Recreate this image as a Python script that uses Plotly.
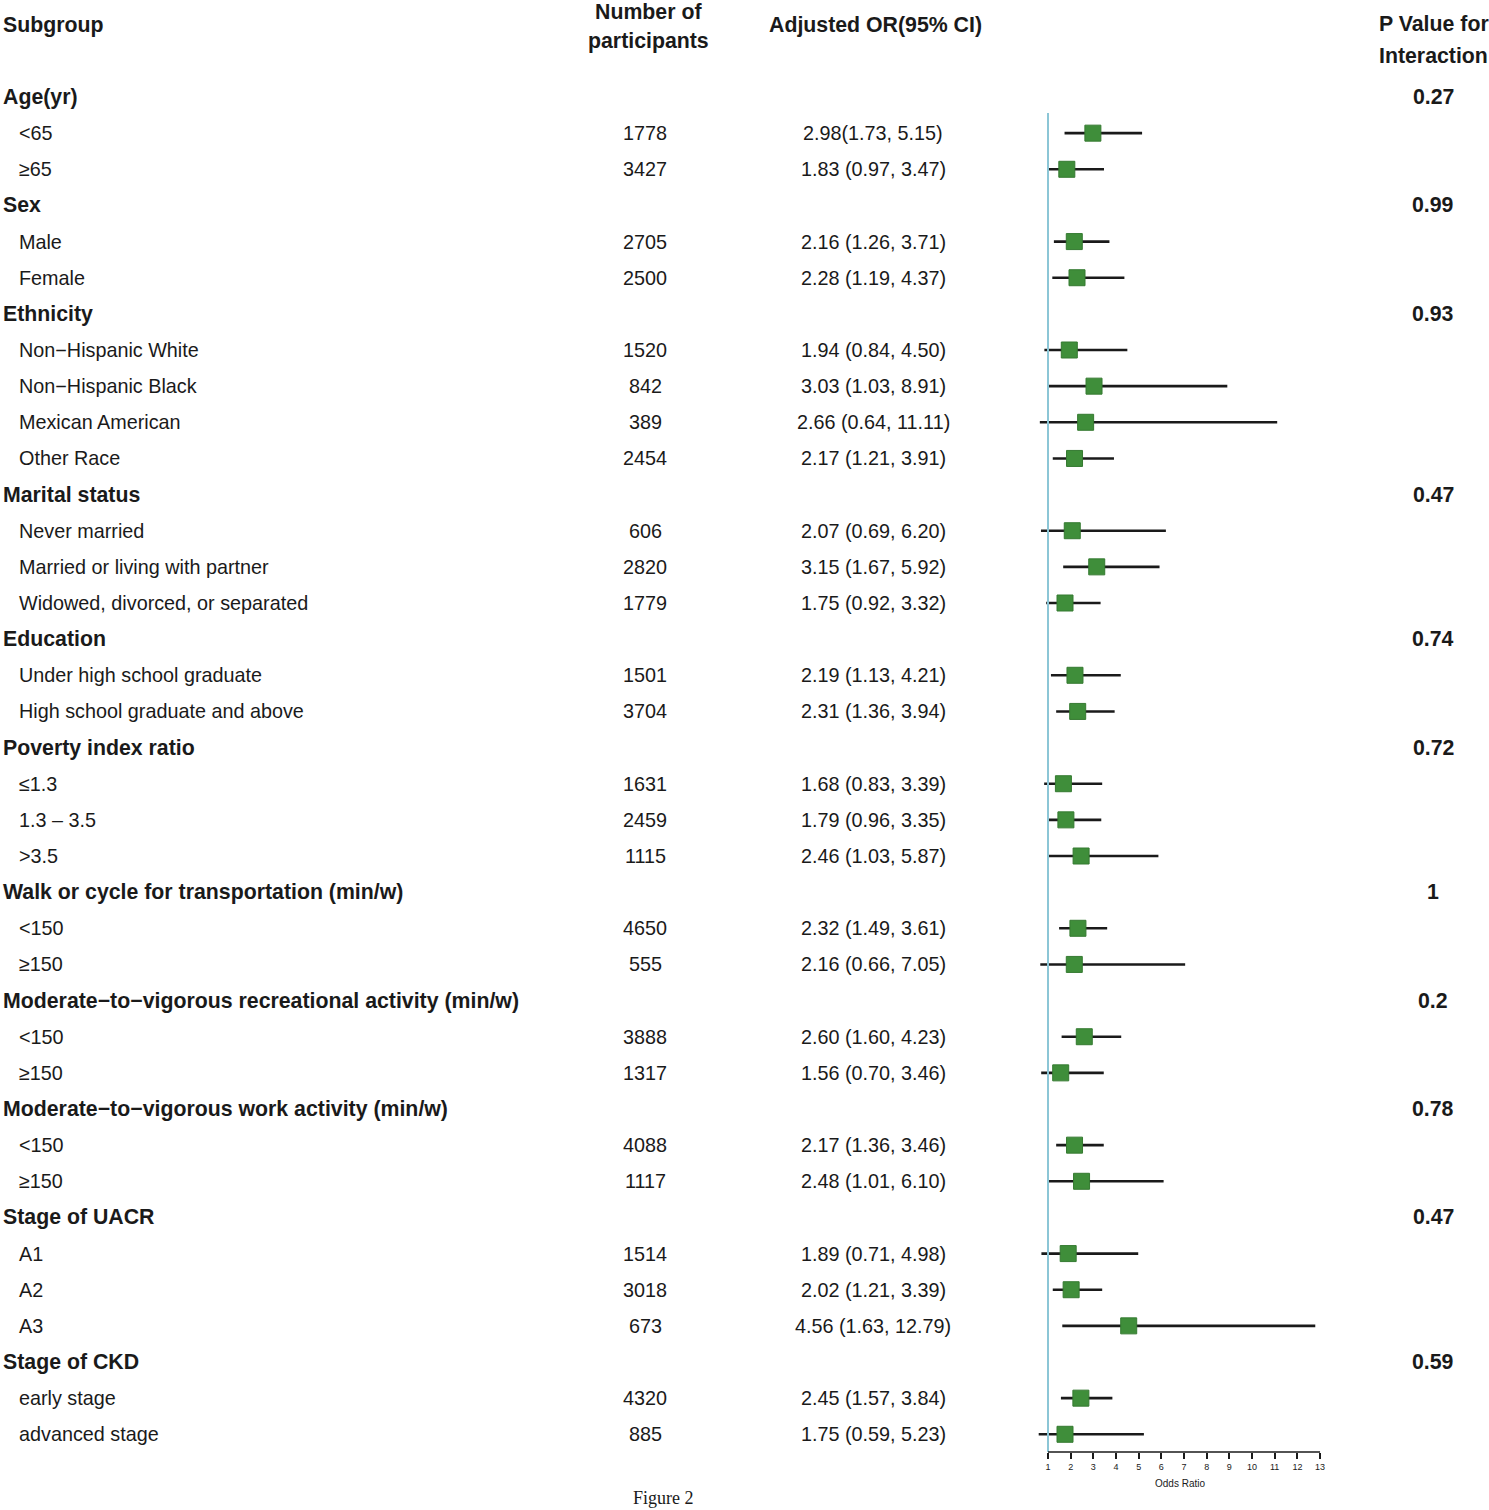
import plotly.graph_objects as go

# ---------------- data ----------------
labels = ["Age(yr)", "<65", "≥65",
          "Sex", "Male", "Female",
          "Ethnicity", "Non−Hispanic White", "Non−Hispanic Black", "Mexican American", "Other Race",
          "Marital status", "Never married", "Married or living with partner", "Widowed, divorced, or separated",
          "Education", "Under high school graduate", "High school graduate and above",
          "Poverty index ratio", "≤1.3", "1.3 – 3.5", ">3.5",
          "Walk or cycle for transportation (min/w)", "<150", "≥150",
          "Moderate−to−vigorous recreational activity (min/w)", "<150", "≥150",
          "Moderate−to−vigorous work activity (min/w)", "<150", "≥150",
          "Stage of UACR", "A1", "A2", "A3",
          "Stage of CKD", "early stage", "advanced stage"]
is_group = [True, False, False,
            True, False, False,
            True, False, False, False, False,
            True, False, False, False,
            True, False, False,
            True, False, False, False,
            True, False, False,
            True, False, False,
            True, False, False,
            True, False, False, False,
            True, False, False]
n_part = ["", "1778", "3427",
          "", "2705", "2500",
          "", "1520", "842", "389", "2454",
          "", "606", "2820", "1779",
          "", "1501", "3704",
          "", "1631", "2459", "1115",
          "", "4650", "555",
          "", "3888", "1317",
          "", "4088", "1117",
          "", "1514", "3018", "673",
          "", "4320", "885"]
or_text = ["", "2.98(1.73, 5.15)", "1.83 (0.97, 3.47)",
           "", "2.16 (1.26, 3.71)", "2.28 (1.19, 4.37)",
           "", "1.94 (0.84, 4.50)", "3.03 (1.03, 8.91)", "2.66 (0.64, 11.11)", "2.17 (1.21, 3.91)",
           "", "2.07 (0.69, 6.20)", "3.15 (1.67, 5.92)", "1.75 (0.92, 3.32)",
           "", "2.19 (1.13, 4.21)", "2.31 (1.36, 3.94)",
           "", "1.68 (0.83, 3.39)", "1.79 (0.96, 3.35)", "2.46 (1.03, 5.87)",
           "", "2.32 (1.49, 3.61)", "2.16 (0.66, 7.05)",
           "", "2.60 (1.60, 4.23)", "1.56 (0.70, 3.46)",
           "", "2.17 (1.36, 3.46)", "2.48 (1.01, 6.10)",
           "", "1.89 (0.71, 4.98)", "2.02 (1.21, 3.39)", "4.56 (1.63, 12.79)",
           "", "2.45 (1.57, 3.84)", "1.75 (0.59, 5.23)"]
or_val = [None, 2.98, 1.83, None, 2.16, 2.28, None, 1.94, 3.03, 2.66, 2.17,
          None, 2.07, 3.15, 1.75, None, 2.19, 2.31, None, 1.68, 1.79, 2.46,
          None, 2.32, 2.16, None, 2.60, 1.56, None, 2.17, 2.48,
          None, 1.89, 2.02, 4.56, None, 2.45, 1.75]
ci_lo = [None, 1.73, 0.97, None, 1.26, 1.19, None, 0.84, 1.03, 0.64, 1.21,
         None, 0.69, 1.67, 0.92, None, 1.13, 1.36, None, 0.83, 0.96, 1.03,
         None, 1.49, 0.66, None, 1.60, 0.70, None, 1.36, 1.01,
         None, 0.71, 1.21, 1.63, None, 1.57, 0.59]
ci_hi = [None, 5.15, 3.47, None, 3.71, 4.37, None, 4.50, 8.91, 11.11, 3.91,
         None, 6.20, 5.92, 3.32, None, 4.21, 3.94, None, 3.39, 3.35, 5.87,
         None, 3.61, 7.05, None, 4.23, 3.46, None, 3.46, 6.10,
         None, 4.98, 3.39, 12.79, None, 3.84, 5.23]
p_inter = ["0.27", "", "", "0.99", "", "", "0.93", "", "", "", "",
           "0.47", "", "", "", "0.74", "", "", "0.72", "", "", "",
           "1", "", "", "0.2", "", "", "0.78", "", "",
           "0.47", "", "", "", "0.59", "", ""]
x_ticks = list(range(1, 14))

# ---------------- layout constants ----------------
W, H = 1489, 1510
FONT = "Liberation Sans, Arial, Helvetica, sans-serif"
TXT = "#1a1a1a"
GREEN = "#3f8e3a"
TEAL = "#8cc6d6"
BOLD = 21.3
REG = 19.8

rows_y = [-i for i in range(len(labels))]

# forest points
px, py, pe_plus, pe_minus = [], [], [], []
for i, v in enumerate(or_val):
    if v is None:
        continue
    px.append(v)
    py.append(rows_y[i])
    pe_plus.append(ci_hi[i] - v)
    pe_minus.append(v - ci_lo[i])

fig = go.Figure()
fig.add_trace(go.Scatter(
    x=px, y=py, mode="markers",
    marker=dict(symbol="square", size=16, color=GREEN,
                line=dict(color="#357a31", width=1)),
    error_x=dict(type="data", symmetric=False, array=pe_plus, arrayminus=pe_minus,
                 color="#1a1a1a", thickness=2.6, width=0),
    showlegend=False, hoverinfo="skip"))

ann = []
def A(x_px, y, text, size=REG, anchor="left", yref="y", family=FONT):
    ann.append(dict(x=x_px / W, xref="paper", y=y, yref=yref, text=text,
                    showarrow=False, xanchor=anchor, yanchor="middle",
                    font=dict(family=family, size=size, color=TXT)))

for i, lab in enumerate(labels):
    y = rows_y[i]
    if is_group[i]:
        A(1, y, "<b>" + lab + "</b>", size=BOLD)
    else:
        A(17, y, lab)
    if n_part[i]:
        A(645, y, n_part[i], anchor="center")
    if or_text[i]:
        A(873, y, or_text[i], anchor="center")
    if p_inter[i]:
        A(1433, y, "<b>" + p_inter[i] + "</b>", size=BOLD, anchor="center")

# headers (y in data units: pixel -> value)
def ypx(p):
    return 2.684 - p / 36.14

A(1, ypx(25), "<b>Subgroup</b>", size=BOLD)
A(648, ypx(12), "<b>Number of</b>", size=BOLD, anchor="center")
A(648, ypx(41), "<b>participants</b>", size=BOLD, anchor="center")
A(875, ypx(25), "<b>Adjusted OR(95% CI)</b>", size=BOLD, anchor="center")
A(1377, ypx(24), "<b>P Value for</b>", size=BOLD)
A(1377, ypx(56), "<b>Interaction</b>", size=BOLD)
ann.append(dict(x=663 / W, xref="paper", y=1 - 1498 / H, yref="paper", text="Figure 2",
                showarrow=False, xanchor="center", yanchor="middle",
                font=dict(family="Liberation Serif, Times New Roman, serif", size=18, color=TXT)))
ann.append(dict(x=1180 / W, xref="paper", y=1 - 1483 / H, yref="paper", text="Odds Ratio",
                showarrow=False, xanchor="center", yanchor="middle",
                font=dict(family=FONT, size=10, color=TXT)))

axis_y = 1 - 1452 / H
x0_px = 1048 - 0.5 * 22.67
x1_px = x0_px + 13 * 22.67

fig.update_layout(
    width=W, height=H,
    margin=dict(l=0, r=0, t=0, b=0),
    paper_bgcolor="white", plot_bgcolor="white",
    annotations=ann,
    xaxis=dict(domain=[x0_px / W, x1_px / W], range=[0.5, 13.5],
               tickvals=x_ticks, ticktext=[str(t) for t in x_ticks],
               ticks="outside", ticklen=6, tickwidth=1.5, tickcolor="#1a1a1a",
               showgrid=False, zeroline=False, showline=False,
               tickfont=dict(family=FONT, size=9, color=TXT)),
    yaxis=dict(domain=[axis_y, 1], range=[-37.49, 2.684],
               showgrid=False, zeroline=False, showline=False,
               showticklabels=False, ticks=""),
    shapes=[
        dict(type="line", xref="x", yref="y", x0=1, x1=1, y0=-37.49, y1=ypx(113),
             line=dict(color=TEAL, width=2)),
        dict(type="line", xref="x", yref="paper", x0=1, x1=13, y0=axis_y, y1=axis_y,
             line=dict(color="#1a1a1a", width=1.5)),
    ],
)

fig.write_html("out.html", config={"displayModeBar": False},
               post_script="document.body.style.margin='0px';document.body.style.overflow='hidden';")
